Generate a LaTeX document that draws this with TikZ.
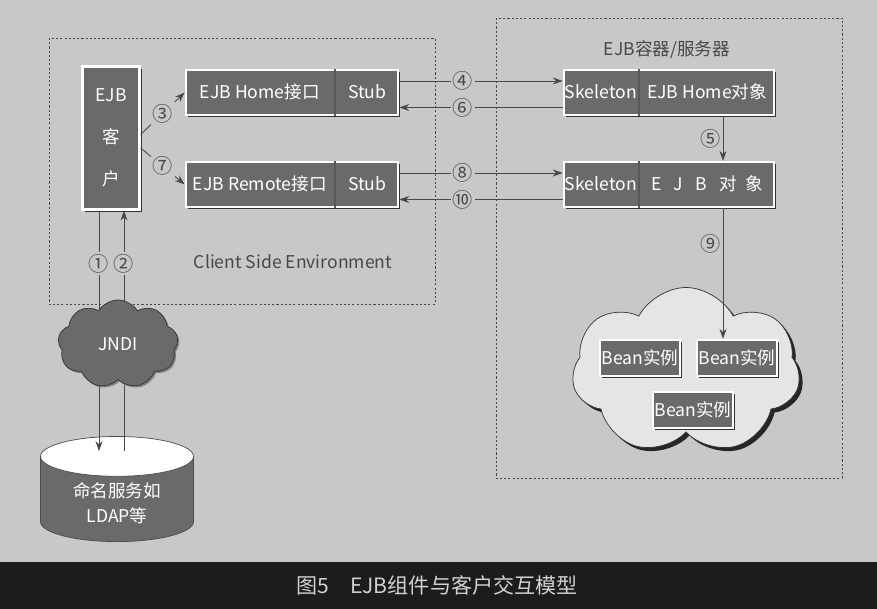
\documentclass[tikz,border=0pt]{standalone}
\usepackage{fontspec}
\setmainfont{Noto Sans CJK SC}
\usepackage{tikz}
\usetikzlibrary{positioning,arrows.meta,calc,shapes.multipart,shapes.symbols,shapes.geometric,shadows}
\definecolor{paper}{RGB}{200,200,200}
\definecolor{slate}{RGB}{106,106,106}
\definecolor{ink}{RGB}{72,72,72}
\definecolor{band}{RGB}{28,28,28}
\newcommand{\cell}[2]{\makebox[#1]{\rule[-0.33cm]{0pt}{0.9cm}#2}}
\tikzset{
  bevel/.style={draw=white,line width=1.3pt,fill=slate,text=white,font=\fontsize{10}{12}\selectfont,
    drop shadow={shadow xshift=1.3pt,shadow yshift=-1.3pt,fill=black!80,opacity=1}},
  pair/.style={bevel,rectangle split,rectangle split horizontal,rectangle split parts=2,
    rectangle split draw splits=false,inner xsep=0pt,inner ysep=0pt},
  bean/.style={bevel,minimum width=1.6cm,minimum height=0.72cm,inner sep=0pt},
  zone/.style={draw=ink,dash pattern=on 1.2pt off 1.2pt,line width=0.5pt},
  flow/.style={-{Stealth[length=2mm,width=1.4mm]},draw=ink,line width=0.5pt},
  num/.style={fill=paper,inner sep=1pt,font=\fontsize{11.5}{12}\selectfont,text=ink},
  db/.style={cylinder,shape border rotate=90,aspect=0.4,minimum width=3.06cm,minimum height=1.74cm,
    draw=black!70,cylinder uses custom fill,cylinder body fill=slate,cylinder end fill=white,
    text=white,align=center,font=\fontsize{10}{14}\selectfont},
  puff/.style={cloud,cloud ignores aspect,draw=black!80},
}

\begin{document}
\begin{tikzpicture}[x=0.2mm,y=-0.2mm]
  \fill[paper] (0,0) rectangle (877,609);
  \useasboundingbox (0,0) rectangle (877,609);
  \fill[band] (0,562) rectangle (877,609);
  \node[text=black!18,font=\fontsize{12}{14}\selectfont] (caption) at (437,585) {图5\quad EJB组件与客户交互模型};

  % the two environments
  \draw[zone] (49,38) rectangle (435,304);
  \draw[zone] (496,18) rectangle (842,478);
  \node[text=ink,font=\fontsize{10}{12}\selectfont] (clientenv) at (293,262) {Client Side Environment};
  \node[text=ink,font=\fontsize{10}{12}\selectfont] (server) at (667,50) {EJB容器/服务器};

  % client side
  \node[bevel,minimum width=1.14cm,minimum height=2.86cm,align=center] (client) at (111,138) {EJB\\[12pt]客\\[12pt]户};
  \node[pair] (homeif) at (292,92.5) {\cell{2.96cm}{EJB Home接口}\nodepart{two}\cell{1.24cm}{Stub}};
  \node[pair] (remoteif) at (292,184.5) {\cell{2.96cm}{EJB Remote接口}\nodepart{two}\cell{1.24cm}{Stub}};
  \draw[black!65,line width=0.6pt] (homeif.one split north) -- (homeif.one split south);
  \draw[black!65,line width=0.6pt] (remoteif.one split north) -- (remoteif.one split south);

  % server side
  \node[pair] (homeobj) at (669,92.5) {\cell{1.48cm}{Skeleton}\nodepart{two}\cell{2.68cm}{EJB Home对象}};
  \node[pair] (ejbobj) at (669,184.5) {\cell{1.48cm}{Skeleton}\nodepart{two}\cell{2.68cm}{E\hspace{0.7em}J\hspace{0.7em}B\hspace{0.7em}对\hspace{0.5em}象}};
  \draw[black!65,line width=0.6pt] (homeobj.one split north) -- (homeobj.one split south);
  \draw[black!65,line width=0.6pt] (ejbobj.one split north) -- (ejbobj.one split south);

  \draw[flow] ([yshift=0.07cm]client.east) -- node[num]{③} (homeif.west);
  \draw[flow] ([yshift=-0.2cm]client.east) -- node[num]{⑦} (remoteif.west);
  \draw[flow] ([yshift=0.23cm]homeif.east) -- node[num,pos=0.39]{④} ([yshift=0.23cm]homeobj.west);
  \draw[flow] ([yshift=-0.3cm]homeobj.west) -- node[num,pos=0.61]{⑥} ([yshift=-0.3cm]homeif.east);
  \draw[flow] ([yshift=0.23cm]remoteif.east) -- node[num,pos=0.39]{⑧} ([yshift=0.23cm]ejbobj.west);
  \draw[flow] ([yshift=-0.3cm]ejbobj.west) -- node[num,pos=0.61]{⑩} ([yshift=-0.3cm]remoteif.east);
  \draw[flow] ([xshift=1.08cm]homeobj.south) -- node[num,left,fill=none]{⑤} ([xshift=1.08cm]homeobj.south |- ejbobj.north);

  % naming service
  \node[db] (naming) at (117,503) {命名服务如\\LDAP等};
  \coordinate (dbtop) at ([yshift=-0.3cm]naming.north);
  \draw[flow] ([xshift=-0.24cm]client.south) -- node[num,pos=0.22]{①} ([xshift=-0.24cm]client.south |- dbtop);
  \draw[flow] ([xshift=0.26cm]client.south |- dbtop) -- node[num,pos=0.78]{②} ([xshift=0.26cm]client.south);
  \node[puff,cloud puffs=9,cloud puff arc=115,fill=slate,text=white,minimum width=2.4cm,minimum height=1.76cm,
    font=\fontsize{10}{12}\selectfont,
    drop shadow={shadow xshift=1pt,shadow yshift=-1pt,fill=black!50,opacity=1}] (jndi) at (118,344) {JNDI};

  % bean pool
  \node[puff,cloud puffs=7,cloud puff arc=125,fill=black!10,minimum width=4.56cm,minimum height=3.34cm,
    drop shadow={shadow xshift=2pt,shadow yshift=-2pt,fill=black!85,opacity=1}] (pool) at (686,371) {};
  \node[bean] (bean1) at (640,358) {Bean实例};
  \node[bean] (bean2) at (737,358) {Bean实例};
  \node[bean] (bean3) at (693,410) {Bean实例};
  \draw[flow] ([xshift=1.08cm]ejbobj.south) -- node[num,left,fill=none,pos=0.27]{⑨} ([xshift=1.08cm]ejbobj.south |- bean2.north);
\end{tikzpicture}
\end{document}
